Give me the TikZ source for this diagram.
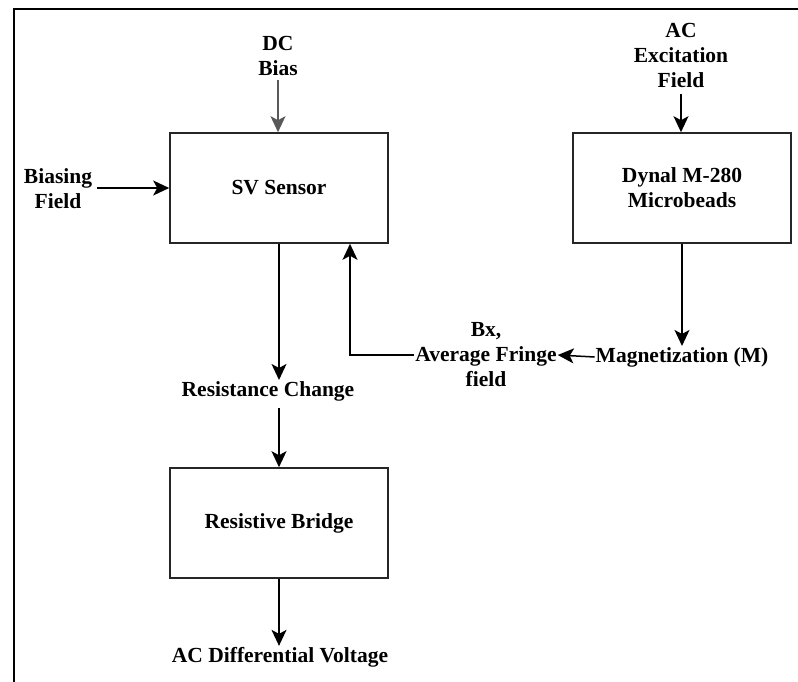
\documentclass[tikz,border=0pt]{standalone}
\usepackage{fontspec}
\setmainfont{Liberation Serif}
\usetikzlibrary{arrows.meta,positioning}
\tikzset{
  blk/.style={draw=black!85, line width=1.6pt, minimum width=218pt, minimum height=110pt, inner sep=0pt, align=center},
  lbl/.style={align=center, inner sep=1pt},
  arr/.style={line width=1.5pt, -{Stealth[length=16pt,width=15pt,inset=4pt]}},
}
\begin{document}
\begin{tikzpicture}[x=1pt,y=-1pt, font=\fontsize{21.5}{25}\selectfont\bfseries]
\useasboundingbox (0,0) rectangle (798,682);
\draw[line width=2.4pt, black] (14,682) -- (14,9) -- (798,9);
% nodes
\node[blk] (sv) at (279,188) {SV Sensor};
\node[blk] (dyn) at (682,188) {Dynal M-280\\Microbeads};
\node[blk] (rb) at (279,523) {Resistive Bridge};
\node[lbl] (dc) at (278,56) {DC\\Bias};
\node[lbl] (bias) at (58,189) {Biasing\\Field};
\node[lbl] (ac) at (681,55) {AC\\Excitation\\Field};
\node[lbl] (mag) at (682,357) {Magnetization (M)};
\node[lbl] (bx) at (486,355) {Bx,\\Average Fringe\\field};
\node[lbl] (res) at (268,391) {Resistance Change};
\node[lbl] (acdv) at (280,657) {AC Differential Voltage};
% connectors
\draw[arr, draw=black!65, fill=black!65] ([yshift=-3pt]dc.south) -- (dc.south |- sv.north);
\draw[arr] ([xshift=4pt]bias.east |- sv.west) -- (sv.west);
\draw[arr] ([yshift=-6pt]ac.south) -- (ac.south |- dyn.north);
\draw[arr] (dyn.south) -- (dyn.south |- mag.north);
\draw[arr] (mag.west) -- (bx.east);
\draw[arr] (bx.west) -| ([xshift=71pt]sv.south);
\draw[arr] (sv.south) -- (sv.south |- res.north);
\draw[arr] ([yshift=-6pt]sv.south |- res.south) -- (rb.north);
\draw[arr] (rb.south) -- (rb.south |- acdv.north);
\end{tikzpicture}
\end{document}
